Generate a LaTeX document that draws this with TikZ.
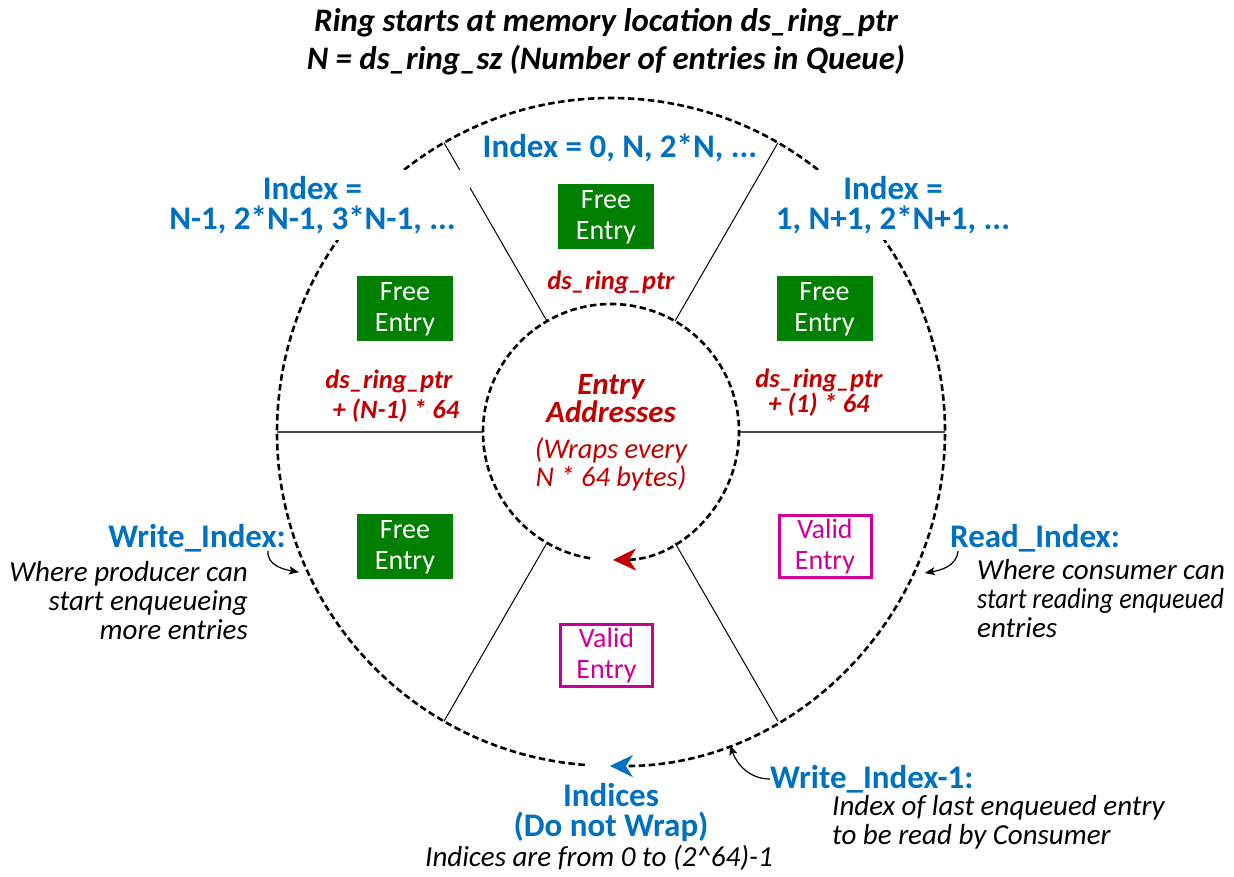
\documentclass[tikz,border=0pt]{standalone}
\usepackage{graphicx}
\usepackage{fontspec}
\setmainfont{Carlito}
\usetikzlibrary{arrows.meta}

\definecolor{idxblue}{HTML}{0070C0}
\definecolor{addrred}{HTML}{C00000}
\definecolor{freegreen}{HTML}{008000}
\definecolor{validpink}{HTML}{CC0099}

\newcommand\setfs[2]{\fontsize{#1}{#2}\selectfont}

\tikzset{
  ring/.style={line width=2.6pt, dash pattern=on 6.5pt off 3.5pt},
  spoke/.style={line width=1pt, black},
  hspoke/.style={line width=1.4pt, black!70},
  freebox/.style={fill=freegreen, text=white, minimum width=96pt, minimum height=65pt,
    inner sep=0pt, align=center, font=\setfs{28}{31}},
  validbox/.style={draw=validpink, line width=3pt, fill=white, text=validpink,
    minimum width=92pt, minimum height=62pt, inner sep=0pt, align=center, font=\setfs{28}{31}},
  idx/.style={text=idxblue, font=\bfseries\setfs{33}{30}, align=center, inner sep=0pt},
  addr/.style={text=addrred, font=\bfseries\itshape\setfs{26.5}{30}, align=center, inner sep=0pt},
  note/.style={font=\itshape\setfs{29}{29}, inner sep=0pt},
  pointer/.style={line width=1.2pt, -{Stealth[length=10pt, width=8pt, inset=2pt]}},
}

\begin{document}
\begin{tikzpicture}[x=1pt, y=1pt]
\useasboundingbox (0,0) rectangle (1234,876);
\coordinate (O) at (611,444);

% title
\node[font=\bfseries\itshape\setfs{32.8}{38}, align=center, inner sep=0pt] (title) at (606,834)
  {Ring starts at memory location ds\_ring\_ptr\\N = ds\_ring\_sz (Number of entries in Queue)};

% six slots between the address ring and the index ring
\foreach \a in {60,120,240,300}
  \draw[spoke] ([shift={(\a:128)}]O) -- ([shift={(\a:334)}]O);
\foreach \a in {0,180}
  \draw[hspoke] ([shift={(\a:128)}]O) -- ([shift={(\a:334)}]O);

% index ring (outer) and address ring (inner), both running clockwise
\draw[ring, -{Stealth[length=23pt, width=22pt, inset=7pt, color=idxblue]}]
  ([shift={(265.5:334)}]O) arc[start angle=265.5, end angle=-90.2, radius=334];
\draw[ring, -{Stealth[length=23pt, width=22pt, inset=7pt, color=addrred]}]
  ([shift={(260.6:128)}]O) arc[start angle=260.6, end angle=-89.1, radius=128];

% slot indices
\node[idx] (idx0) at (620,728) {Index = 0, N, 2*N, ...};
\node[idx, fill=white, minimum width=315pt, minimum height=70pt] (idxlast) at (312.5,671)
  {Index =\\N-1, 2*N-1, 3*N-1, ...};
\node[idx, fill=white, minimum width=246pt, minimum height=70pt] (idx1) at (893,671)
  {Index =\\1, N+1, 2*N+1, ...};

% slot contents
\node[freebox] (e0) at (606,659) {Free\\Entry};
\node[freebox] (elast) at (405,567) {Free\\Entry};
\node[freebox] (e1) at (824.5,567) {Free\\Entry};
\node[freebox] (ew) at (405,329) {Free\\Entry};
\node[validbox] (er) at (825,329) {Valid\\Entry};
\node[validbox] (eb) at (606.5,220.5) {Valid\\Entry};

% entry addresses
\node[addr] (a0) at (611,594) {ds\_ring\_ptr};
\node[addr] (alast) at (389,480) {ds\_ring\_ptr\\\hspace*{14pt}+ (N-1) * 64};
\node[addr, font=\bfseries\itshape\setfs{26.5}{24}] (a1) at (819,483) {ds\_ring\_ptr\\+ (1) * 64};
\node[addr, font=\bfseries\itshape\setfs{31}{28}] (aT) at (611,477) {Entry\\Addresses};
\node[addr, font=\itshape\setfs{28.5}{28}] (aW) at (611,412) {(Wraps every\\N * 64 bytes)};

% producer side
\node[idx, anchor=east] (wi) at (286,338) {Write\_Index:};
\node[note, anchor=east, align=right] (wiNote) at (248,275)
  {Where producer can\\start enqueueing\\more entries};
\coordinate (wiFrom) at (268,325);
\coordinate (wiTo) at ([shift={(204.2:342)}]O);
\draw[pointer] (wiFrom) to[out=-95, in=170] (wiTo);

% consumer side
\node[idx, anchor=west] (ri) at (950,338) {Read\_Index:};
\node[note, anchor=west, align=left] (riNote) at (977,277)
  {Where consumer can\\\scalebox{0.9}[1]{start reading enqueued}\\entries};
\coordinate (riFrom) at (958,325);
\coordinate (riTo) at ([shift={(-24.2:344)}]O);
\draw[pointer] (riFrom) to[out=-95, in=10] (riTo);

% last written slot
\node[idx, anchor=west] (wl) at (770,97) {Write\_Index-1:};
\node[note, anchor=west, align=left] (wlNote) at (832,54)
  {Index of last enqueued entry\\to be read by Consumer};
\coordinate (wlFrom) at (wl.west);
\coordinate (wlTo) at ([shift={(-69.2:335)}]O);
\draw[pointer] (wlFrom) to[out=180, in=-70] (wlTo);

% index ring caption
\node[idx] (ind) at (611,63) {Indices\\(Do not Wrap)};
\node[note] (indNote) at (599,18) {Indices are from 0 to (2\textasciicircum 64)-1};
\end{tikzpicture}
\end{document}
